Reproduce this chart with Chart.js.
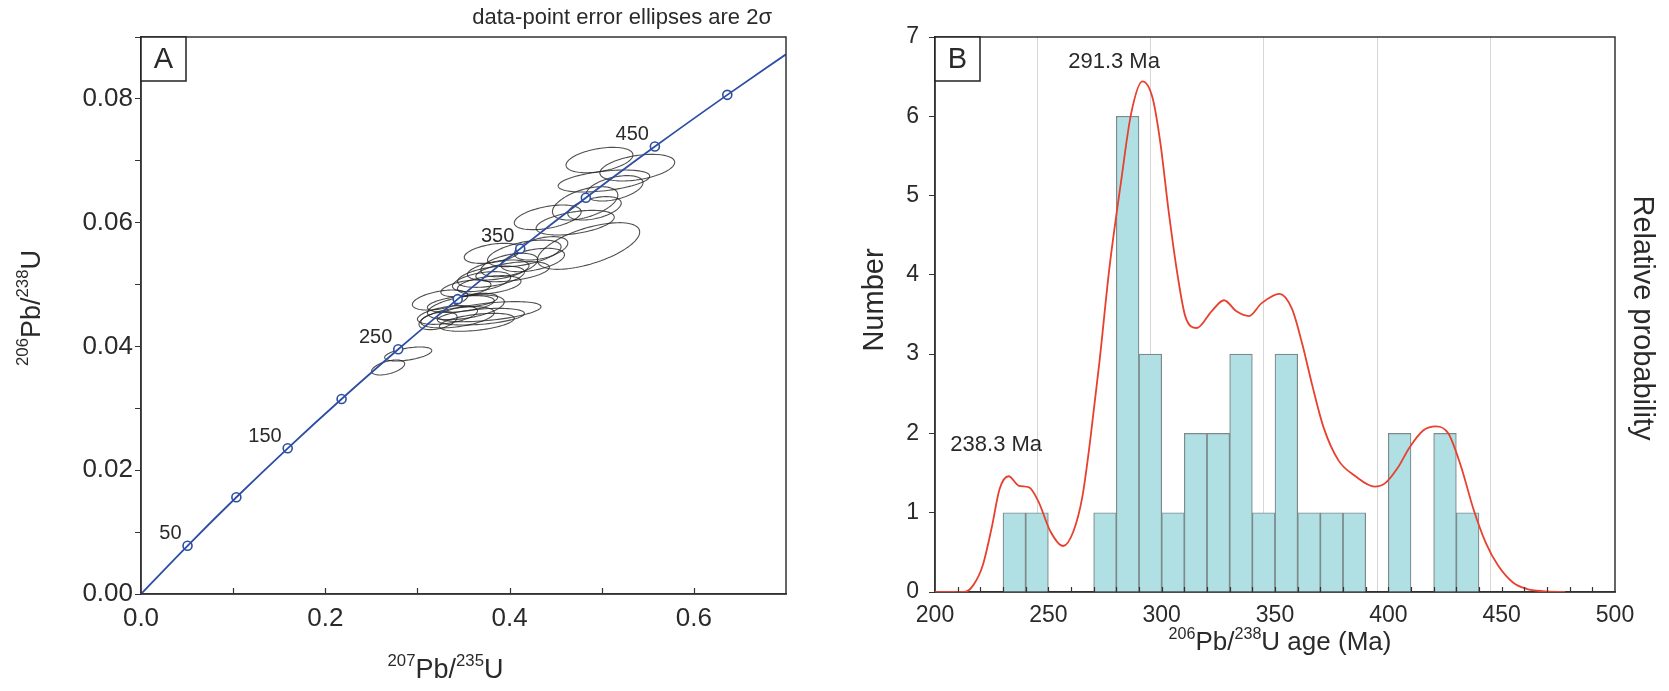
<!DOCTYPE html>
<html>
<head>
<meta charset="utf-8">
<script src="https://cdn.jsdelivr.net/npm/chart.js@4.4.0/dist/chart.umd.min.js"></script>
<style>
  html, body { margin: 0; padding: 0; background: #fff; }
  body { width: 1669px; height: 691px; position: relative; overflow: hidden; }
  #boxA { position: absolute; left: 0; top: 0; width: 820px; height: 691px; }
  #boxB { position: absolute; left: 820px; top: 0; width: 849px; height: 691px; }
</style>
</head>
<body>
<div id="boxA"><canvas id="concordiaChart"></canvas></div>
<div id="boxB"><canvas id="histChart"></canvas></div>
<script>
// ---- panel A: concordia diagram ----
const concordiaAges = [50, 100, 150, 200, 250, 300, 350, 400, 450, 500];
const concordiaX = [0.0505, 0.1035, 0.1592, 0.2177, 0.2792, 0.3437, 0.4116, 0.4828, 0.5577, 0.6363];
const concordiaY = [0.00779, 0.01563, 0.02354, 0.03151, 0.03954, 0.04764, 0.05580, 0.06402, 0.07230, 0.08065];
const labelledAges = [50, 150, 250, 350, 450];

// concordia curve traced from origin to the right edge
const curveX = [0, 0.0505, 0.1035, 0.1592, 0.2177, 0.2792, 0.3437, 0.4116, 0.4828, 0.5577, 0.6363, 0.70];
const curveY = [0, 0.00779, 0.01563, 0.02354, 0.03151, 0.03954, 0.04764, 0.05580, 0.06402, 0.07230, 0.08065, 0.0872];

// error ellipses: centre, 2-sigma half widths, correlation
const ellipseX = [0.4976, 0.5386, 0.5024, 0.4820, 0.4414, 0.4857, 0.4712, 0.4342, 0.4160, 0.3997, 0.3877, 0.3696, 0.3816,
                  0.3526, 0.3246, 0.3526, 0.3779, 0.3435, 0.3645, 0.3224, 0.3634, 0.5140, 0.2900, 0.2682,
                  0.4922, 0.3471, 0.3326, 0.3689, 0.4251, 0.4033, 0.3798, 0.3779];
const ellipseY = [0.07012, 0.06889, 0.06673, 0.06312, 0.06086, 0.05623, 0.06000, 0.05585, 0.05504, 0.05316, 0.05235, 0.05047, 0.05504,
                  0.04939, 0.04750, 0.04632, 0.04562, 0.04471, 0.04390, 0.04416, 0.04750, 0.06555, 0.03878, 0.03660,
                  0.06232, 0.04686, 0.04508, 0.04481, 0.05397, 0.05208, 0.05127, 0.04993];
const ellipseSx = [0.0363, 0.0406, 0.0497, 0.0355, 0.0363, 0.0555, 0.0424, 0.0290, 0.0399, 0.0308, 0.0334, 0.0316, 0.0308,
                   0.0272, 0.0301, 0.0417, 0.0562, 0.0399, 0.0406, 0.0207, 0.0236, 0.0308, 0.0256, 0.0180,
                   0.0290, 0.0363, 0.0326, 0.0472, 0.0345, 0.0399, 0.0363, 0.0345];
const ellipseSy = [0.00205, 0.00215, 0.00178, 0.00269, 0.00199, 0.00377, 0.00199, 0.00189, 0.00215, 0.00189, 0.00162, 0.00162, 0.00162,
                   0.00135, 0.00162, 0.00199, 0.00162, 0.00172, 0.00145, 0.00145, 0.00108, 0.00205, 0.00113, 0.00121,
                   0.00189, 0.00135, 0.00151, 0.00135, 0.00189, 0.00162, 0.00172, 0.00151];
const ellipseRho = [0.4, 0.4, 0.45, 0.5, 0.45, 0.6, 0.45, 0.45, 0.5, 0.45, 0.45, 0.45, 0.4,
                    0.45, 0.45, 0.45, 0.5, 0.45, 0.45, 0.4, 0.4, 0.45, 0.5, 0.5,
                    0.45, 0.4, 0.45, 0.4, 0.45, 0.45, 0.45, 0.4];

// ---- panel B: histogram + probability curve ----
const binStart = [230, 240, 250, 260, 270, 280, 290, 300, 310, 320, 330, 340, 350, 360, 370, 380, 390, 400, 410, 420, 430];
const binCount = [1, 1, 0, 0, 1, 6, 3, 1, 2, 2, 3, 1, 3, 1, 1, 1, 0, 2, 0, 2, 1];
const probAge = [200, 213, 217, 221, 225, 228.5, 232.5, 237, 241.5, 245.5, 251, 256.5, 261, 265, 268.5, 272.5, 277, 282, 286.5,
                 291.5, 296, 299.5, 303, 307, 310.5, 315.5, 322, 327.5, 333, 338.5, 344, 352, 357.5, 362, 366.5, 371.5, 378,
                 385.5, 394, 398.5, 404, 409.5, 415.5, 421, 426.5, 432, 437.5, 443, 448.5, 455, 461, 468, 478];
const probValue = [0, 0, 0.09, 0.33, 0.81, 1.3, 1.46, 1.34, 1.32, 1.15, 0.76, 0.58, 0.76, 1.2, 1.92, 2.89, 4.1, 5.16, 6.03,
                   6.44, 6.23, 5.65, 4.82, 4.0, 3.47, 3.33, 3.54, 3.68, 3.54, 3.48, 3.64, 3.76, 3.57, 3.13, 2.6, 2.07, 1.66,
                   1.46, 1.33, 1.37, 1.56, 1.83, 2.04, 2.09, 2.0, 1.59, 1.05, 0.62, 0.33, 0.12, 0.04, 0.01, 0];
const peakLabels = ['291.3 Ma', '238.3 Ma'];

const FONT = '"Liberation Sans", Arial, Helvetica, sans-serif';
const INK = '#2a2a2a';

// text with superscript parts: parts = [[text, isSup], ...]
function drawRichText(ctx, parts, cx, cy, size, angle) {
  const supSize = size * 0.62;
  ctx.save();
  ctx.translate(cx, cy);
  ctx.rotate(angle || 0);
  ctx.fillStyle = INK;
  ctx.textBaseline = 'alphabetic';
  ctx.textAlign = 'left';
  let total = 0;
  parts.forEach(p => {
    ctx.font = (p[1] ? supSize : size) + 'px ' + FONT;
    total += ctx.measureText(p[0]).width;
  });
  let x = -total / 2;
  const base = size * 0.36;
  parts.forEach(p => {
    ctx.font = (p[1] ? supSize : size) + 'px ' + FONT;
    ctx.fillText(p[0], x, p[1] ? base - size * 0.42 : base);
    x += ctx.measureText(p[0]).width;
  });
  ctx.restore();
}

function drawFrame(ctx, area) {
  ctx.save();
  ctx.strokeStyle = '#333';
  ctx.lineWidth = 1.5;
  ctx.strokeRect(area.left, area.top, area.right - area.left, area.bottom - area.top);
  ctx.restore();
}

function drawPanelLetter(ctx, area, letter) {
  ctx.save();
  ctx.fillStyle = '#fff';
  ctx.fillRect(area.left, area.top, 45, 44);
  ctx.strokeStyle = '#222';
  ctx.lineWidth = 1.5;
  ctx.strokeRect(area.left, area.top, 45, 44);
  ctx.fillStyle = INK;
  ctx.font = '29px ' + FONT;
  ctx.textAlign = 'center';
  ctx.textBaseline = 'middle';
  ctx.fillText(letter, area.left + 22.5, area.top + 23);
  ctx.restore();
}

function drawInwardTicks(ctx, scale, area, from, to, step, len) {
  ctx.save();
  ctx.strokeStyle = '#333';
  ctx.lineWidth = 1.2;
  for (let v = from; v <= to + 1e-9; v += step) {
    const px = Math.round(scale.getPixelForValue(v)) + 0.5;
    ctx.beginPath();
    ctx.moveTo(px, area.bottom);
    ctx.lineTo(px, area.bottom - len);
    ctx.stroke();
  }
  ctx.restore();
}

const concordiaDecor = {
  id: 'concordiaDecor',
  beforeDatasetsDraw(chart) {
    const { ctx, chartArea, scales: { x, y } } = chart;
    ctx.save();
    ctx.beginPath();
    ctx.rect(chartArea.left, chartArea.top, chartArea.width, chartArea.height);
    ctx.clip();
    ctx.strokeStyle = 'rgba(35,35,35,0.8)';
    ctx.lineWidth = 1.1;
    for (let i = 0; i < ellipseX.length; i++) {
      const r = ellipseRho[i], q = Math.sqrt(1 - r * r);
      ctx.beginPath();
      for (let k = 0; k <= 90; k++) {
        const t = k / 90 * 2 * Math.PI;
        const vx = ellipseX[i] + ellipseSx[i] * Math.cos(t);
        const vy = ellipseY[i] + ellipseSy[i] * (r * Math.cos(t) + q * Math.sin(t));
        const px = x.getPixelForValue(vx), py = y.getPixelForValue(vy);
        if (k === 0) ctx.moveTo(px, py); else ctx.lineTo(px, py);
      }
      ctx.closePath();
      ctx.stroke();
    }
    ctx.restore();
  },
  afterDraw(chart) {
    const { ctx, chartArea, scales: { x, y } } = chart;
    drawFrame(ctx, chartArea);
    drawInwardTicks(ctx, x, chartArea, 0.1, 0.6, 0.1, 6);
    drawPanelLetter(ctx, chartArea, 'A');

    // age labels along the concordia
    ctx.save();
    ctx.fillStyle = INK;
    ctx.font = '20px ' + FONT;
    ctx.textAlign = 'right';
    ctx.textBaseline = 'bottom';
    labelledAges.forEach(age => {
      const i = concordiaAges.indexOf(age);
      ctx.fillText(String(age), x.getPixelForValue(concordiaX[i]) - 6, y.getPixelForValue(concordiaY[i]) - 2);
    });
    ctx.font = '22px ' + FONT;
    ctx.textBaseline = 'alphabetic';
    ctx.fillText('data-point error ellipses are 2\u03c3', chartArea.right - 14, 24);
    ctx.restore();

    drawRichText(ctx, [['207', true], ['Pb/', false], ['235', true], ['U', false]],
      (chartArea.left + chartArea.right) / 2 - 18, 668, 27, 0);
    drawRichText(ctx, [['206', true], ['Pb/', false], ['238', true], ['U', false]],
      30, 308, 27, -Math.PI / 2);
  }
};

const histDecor = {
  id: 'histDecor',
  beforeDatasetsDraw(chart) {
    drawFrame(chart.ctx, chart.chartArea);
  },
  afterDraw(chart) {
    const { ctx, chartArea, scales: { x, y } } = chart;
    drawInwardTicks(ctx, x, chartArea, 210, 490, 10, 5);
    drawPanelLetter(ctx, chartArea, 'B');

    ctx.save();
    ctx.fillStyle = INK;
    ctx.font = '22px ' + FONT;
    ctx.textAlign = 'center';
    ctx.textBaseline = 'middle';
    ctx.fillText(peakLabels[0], x.getPixelForValue(279), y.getPixelForValue(6.68));
    ctx.fillText(peakLabels[1], x.getPixelForValue(227), y.getPixelForValue(1.85));

    ctx.font = '29px ' + FONT;
    ctx.translate(55, 300);
    ctx.rotate(-Math.PI / 2);
    ctx.fillText('Number', 0, 0);
    ctx.restore();

    ctx.save();
    ctx.fillStyle = INK;
    ctx.font = '29px ' + FONT;
    ctx.textAlign = 'center';
    ctx.textBaseline = 'middle';
    ctx.translate(822, 318);
    ctx.rotate(Math.PI / 2);
    ctx.fillText('Relative probability', 0, 0);
    ctx.restore();

    drawRichText(ctx, [['206', true], ['Pb/', false], ['238', true], ['U age (Ma)', false]],
      (chartArea.left + chartArea.right) / 2 + 5, 641, 26, 0);
  }
};

Chart.defaults.font.family = FONT;
Chart.defaults.color = INK;

new Chart(document.getElementById('concordiaChart'), {
  type: 'scatter',
  data: {
    datasets: [
      {
        type: 'line',
        data: curveX.map((v, i) => ({ x: v, y: curveY[i] })),
        borderColor: '#2d4ea3',
        borderWidth: 1.8,
        pointRadius: 0,
        cubicInterpolationMode: 'monotone',
        fill: false
      },
      {
        data: concordiaX.map((v, i) => ({ x: v, y: concordiaY[i] })),
        pointRadius: 4.5,
        pointBorderWidth: 1.6,
        pointBackgroundColor: '#fff',
        pointBorderColor: '#2d4ea3'
      }
    ]
  },
  options: {
    responsive: true,
    maintainAspectRatio: false,
    animation: false,
    layout: { padding: { left: 0, right: 34, top: 37, bottom: 0 } },
    plugins: { legend: { display: false }, tooltip: { enabled: false } },
    scales: {
      x: {
        type: 'linear', min: 0, max: 0.7,
        afterFit: s => { s.height = 97; },
        grid: { drawOnChartArea: false, drawTicks: false },
        border: { color: '#333', width: 1.5 },
        ticks: {
          stepSize: 0.1, autoSkip: false, maxRotation: 0, padding: 9,
          font: { size: 26 }, color: INK,
          callback: v => (Math.round(v * 10) % 2 === 0 && v < 0.65) ? v.toFixed(1) : ''
        }
      },
      y: {
        type: 'linear', min: 0, max: 0.09,
        afterFit: s => { s.width = 141; },
        grid: { drawOnChartArea: false, drawTicks: true, tickLength: 6, color: '#333' },
        border: { color: '#333', width: 1.5 },
        ticks: {
          stepSize: 0.01, autoSkip: false, padding: 2,
          font: { size: 26 }, color: INK,
          callback: v => (Math.round(v * 100) % 2 === 0) ? v.toFixed(2) : ''
        }
      }
    }
  },
  plugins: [concordiaDecor]
});

new Chart(document.getElementById('histChart'), {
  type: 'bar',
  data: {
    datasets: [
      {
        type: 'line',
        data: probAge.map((v, i) => ({ x: v, y: probValue[i] })),
        yAxisID: 'y2',
        borderColor: '#e8402f',
        borderWidth: 1.8,
        pointRadius: 0,
        cubicInterpolationMode: 'monotone',
        fill: false
      },
      {
        data: binStart.map((v, i) => ({ x: v + 5, y: binCount[i] })),
        yAxisID: 'y',
        backgroundColor: '#b1e0e4',
        borderColor: '#7d8a8c',
        borderWidth: 1.2,
        barPercentage: 1,
        categoryPercentage: 1,
        grouped: false
      }
    ]
  },
  options: {
    responsive: true,
    maintainAspectRatio: false,
    animation: false,
    layout: { padding: { left: 0, right: 54, top: 37, bottom: 0 } },
    plugins: { legend: { display: false }, tooltip: { enabled: false } },
    scales: {
      x: {
        type: 'linear', min: 200, max: 500, offset: false,
        afterFit: s => { s.height = 99; },
        grid: {
          drawTicks: false,
          color: c => (c.tick && c.tick.value % 50 === 0 && c.tick.value > 200 && c.tick.value < 500) ? '#d6d6d6' : 'rgba(0,0,0,0)'
        },
        border: { color: '#333', width: 1.5 },
        ticks: {
          stepSize: 10, autoSkip: false, maxRotation: 0, padding: 10,
          font: { size: 23 }, color: INK,
          callback: v => (v % 50 === 0) ? String(v) : ''
        }
      },
      y: {
        type: 'linear', min: 0, max: 7,
        afterFit: s => { s.width = 115; },
        grid: { drawOnChartArea: false, drawTicks: true, tickLength: 6, color: '#333' },
        border: { color: '#333', width: 1.5 },
        ticks: { stepSize: 1, padding: 10, font: { size: 23 }, color: INK }
      },
      y2: { type: 'linear', position: 'right', min: 0, max: 7, display: false }
    }
  },
  plugins: [histDecor]
});
</script>
</body>
</html>
